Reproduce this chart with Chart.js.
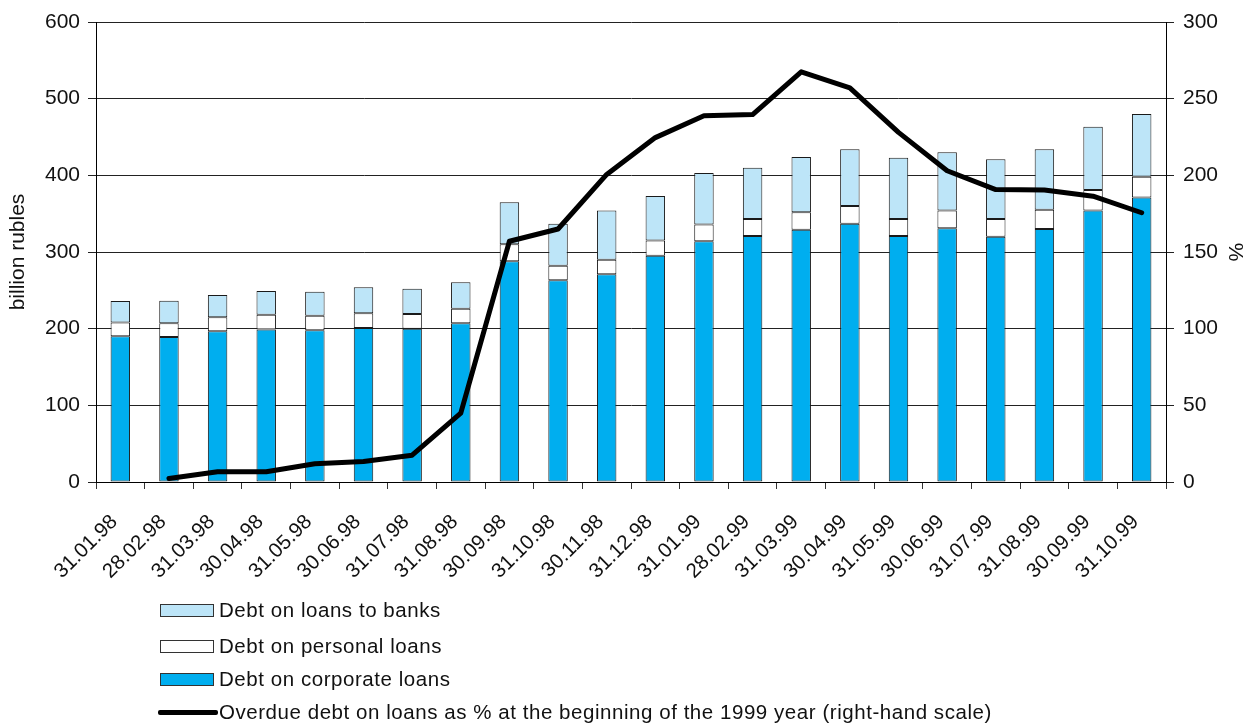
<!DOCTYPE html>
<html>
<head>
<meta charset="utf-8">
<script src="https://cdn.jsdelivr.net/npm/chart.js@4.4.1/dist/chart.umd.min.js"></script>
<style>
  html, body { margin: 0; padding: 0; background: #fff; }
  #wrap { position: relative; width: 1253px; height: 724px; }
  canvas { position: absolute; left: 0; top: 0; }
  #legend { position: absolute; left: 158px; top: 598px; font-family: "Liberation Sans", Arial, sans-serif; font-size: 20.5px; letter-spacing: 0.55px; color: #111; }
  .row { position: absolute; left: 0; white-space: nowrap; height: 24px; line-height: 24px; }
  .sw { position: absolute; left: 2px; top: 6px; width: 54px; height: 13px; box-sizing: border-box; border: 1px solid #333; }
  .ln { position: absolute; left: 0; top: 10px; width: 60px; height: 5px; background: #000; border-radius: 2px; }
  .tx { position: absolute; left: 61px; top: 0; }
</style>
</head>
<body>
<div id="wrap">
  <canvas id="c" width="1253" height="724"></canvas>
  <div id="legend"></div>
</div>
<script>
const categories = ["31.01.98","28.02.98","31.03.98","30.04.98","31.05.98","30.06.98","31.07.98","31.08.98","30.09.98","31.10.98","30.11.98","31.12.98","31.01.99","28.02.99","31.03.99","30.04.99","31.05.99","30.06.99","31.07.99","31.08.99","30.09.99","31.10.99"];
const corporateLoans = [190,189,196.5,199,198,201,200,207,288,263,271,295,314,321,329,337,321,331,320,330,354,371];
const personalLoans  = [18,18,18.5,19,19,19,19,19,22,19,19,20,22,22,23,23,22,23,23,25,27,27];
const bankLoans      = [28,29.5,29,31,31,34,33,34.5,55,55,64,58,67,67,72,74,80,76,78,79,82.5,82];
const overduePct     = [null,2.3,6.7,6.7,11.9,13.4,17.5,44.9,157,165,200.6,224.6,238.9,239.6,267.5,257,228,203,190.7,190.5,186.4,175.6];
const leftTicks = [0,100,200,300,400,500,600];
const rightTicks = [0,50,100,150,200,250,300];

const seriesNames = {
  banks: "Debt on loans to banks",
  personal: "Debt on personal loans",
  corporate: "Debt on corporate loans",
  overdue: "Overdue debt on loans as % at the beginning of the 1999 year (right-hand scale)"
};
const colors = { corporate: "#00AEEF", personal: "#FFFFFF", banks: "#BDE5F8", line: "#000000", border: "#1a1a1a" };

const FONT = "'Liberation Sans', Arial, sans-serif";

const barCommon = { stack: "s", yAxisID: "y", borderColor: colors.border, borderWidth: 1, borderSkipped: false, categoryPercentage: 1.0, barPercentage: 0.4, order: 1 };

new Chart(document.getElementById("c"), {
  type: "bar",
  data: {
    labels: categories,
    datasets: [
      Object.assign({ label: seriesNames.corporate, data: corporateLoans, backgroundColor: colors.corporate }, barCommon),
      Object.assign({ label: seriesNames.personal, data: personalLoans, backgroundColor: colors.personal }, barCommon),
      Object.assign({ label: seriesNames.banks, data: bankLoans, backgroundColor: colors.banks }, barCommon),
      { type: "line", label: seriesNames.overdue, data: overduePct, yAxisID: "y1", borderColor: colors.line, borderWidth: 5, pointRadius: 0, tension: 0, spanGaps: false, order: 0, borderCapStyle: "round", borderJoinStyle: "round" }
    ]
  },
  options: {
    responsive: false,
    animation: false,
    devicePixelRatio: 1,
    layout: { padding: { top: 22, left: 0, right: 0, bottom: 0 } },
    plugins: { legend: { display: false }, tooltip: { enabled: false } },
    scales: {
      x: {
        stacked: true,
        grid: { display: true, drawOnChartArea: false, drawTicks: true, tickLength: 7, color: "#333", offset: true },
        border: { display: true, color: "#000", width: 1 },
        ticks: { color: "#111", font: { family: FONT, size: 20.5 }, minRotation: 45, maxRotation: 45, autoSkip: false, padding: 21, labelOffset: -6 },
        afterFit: (s) => { s.height = 242; }
      },
      y: {
        stacked: true,
        position: "left",
        min: 0, max: 600,
        afterBuildTicks: (s) => { s.ticks = leftTicks.map(v => ({ value: v })); },
        grid: { color: "#222", lineWidth: 1, drawTicks: true, tickLength: 8 },
        border: { display: true, color: "#000", width: 1 },
        ticks: { color: "#111", font: { family: FONT, size: 21 }, padding: 8 },
        title: { display: true, text: "billion rubles", color: "#111", font: { family: FONT, size: 21 }, padding: { top: 6, bottom: 0 } },
        afterFit: (s) => { s.width = 96; }
      },
      y1: {
        position: "right",
        min: 0, max: 300,
        afterBuildTicks: (s) => { s.ticks = rightTicks.map(v => ({ value: v })); },
        grid: { drawOnChartArea: false, drawTicks: true, tickLength: 8, color: "#222" },
        border: { display: true, color: "#000", width: 1 },
        ticks: { color: "#111", font: { family: FONT, size: 21 }, padding: 9 },
        title: { display: true, text: "%", color: "#111", font: { family: FONT, size: 21 }, padding: { top: 6, bottom: 0 } },
        afterFit: (s) => { s.width = 87; }
      }
    }
  }
});

// HTML legend
const legendItems = [
  { name: seriesNames.banks, fill: colors.banks, top: 0 },
  { name: seriesNames.personal, fill: colors.personal, top: 36 },
  { name: seriesNames.corporate, fill: colors.corporate, top: 69 },
  { name: seriesNames.overdue, line: true, top: 102 }
];
const lg = document.getElementById("legend");
legendItems.forEach(it => {
  const row = document.createElement("div");
  row.className = "row";
  row.style.top = it.top + "px";
  const sw = document.createElement("div");
  if (it.line) { sw.className = "ln"; } else { sw.className = "sw"; sw.style.background = it.fill; }
  const tx = document.createElement("div");
  tx.className = "tx";
  tx.textContent = it.name;
  row.appendChild(sw); row.appendChild(tx);
  lg.appendChild(row);
});
</script>
</body>
</html>
